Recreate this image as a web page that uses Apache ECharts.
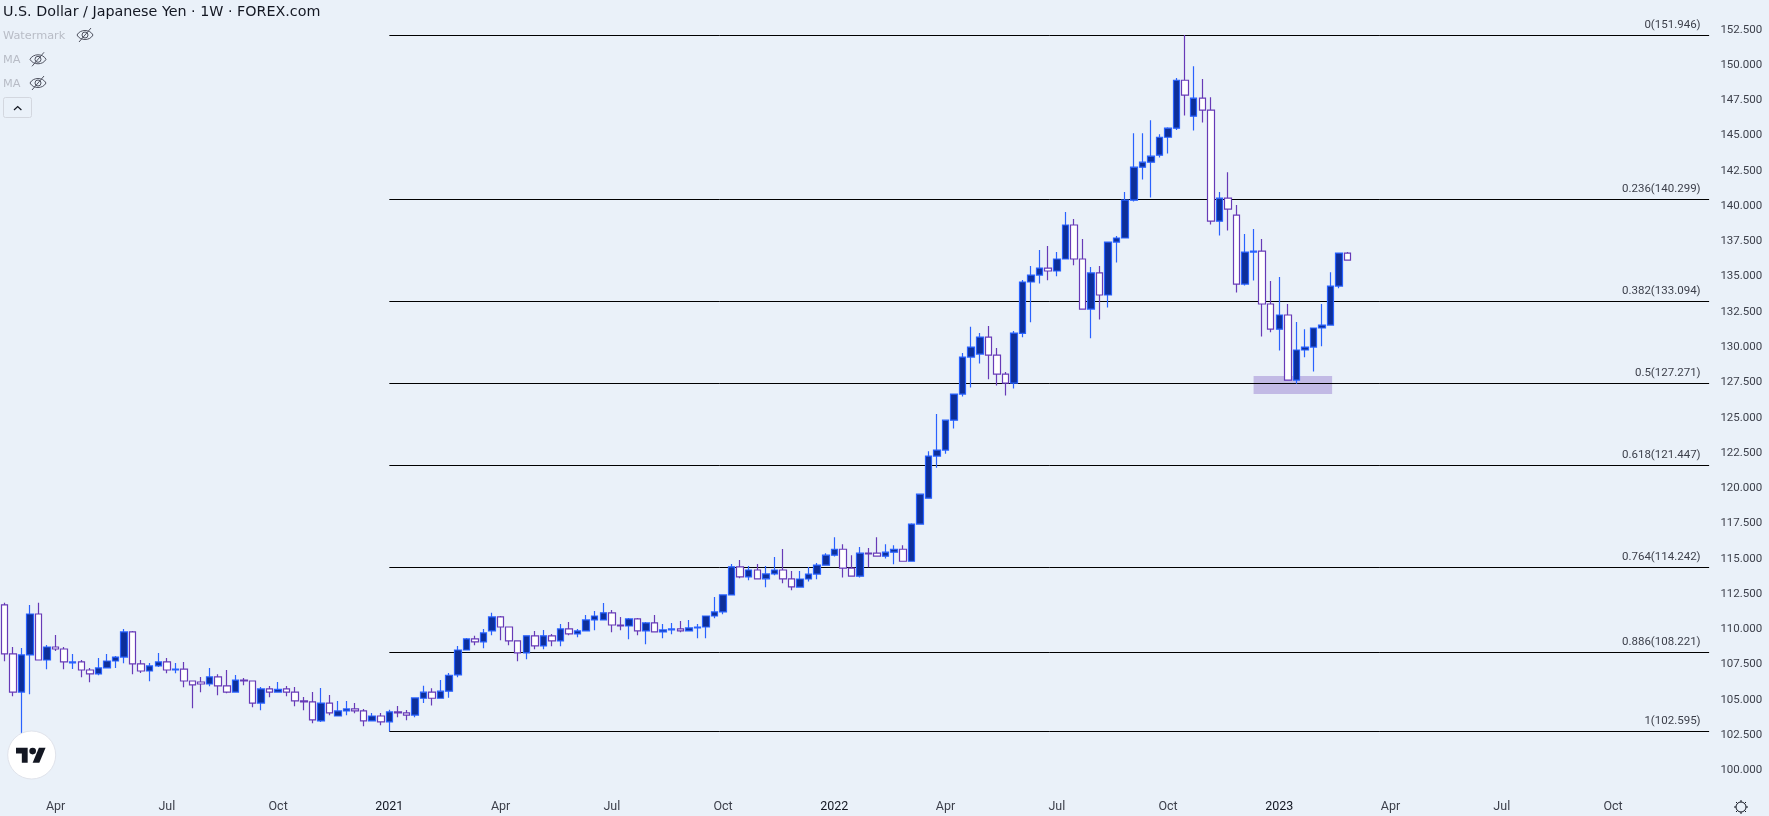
<!DOCTYPE html>
<html>
<head>
<meta charset="utf-8">
<script src="https://cdn.jsdelivr.net/npm/echarts@6/dist/echarts.min.js"></script>
<style>html,body{margin:0;padding:0;background:#eaf1f9}#c{width:1769px;height:816px}</style>
</head>
<body>
<div id="c"></div>
<script>
const opens = [
111.55,108.08,105.38,108.01,110.91,107.65,108.57,108.43,107.44,107.51,
106.94,106.66,107.09,107.58,107.86,109.64,107.37,106.87,107.23,107.51,
106.94,107.01,106.16,106.09,105.95,106.45,105.81,105.38,106.23,106.16,
104.60,105.60,105.38,105.60,105.38,104.75,104.68,103.33,104.60,103.68,
104.04,104.18,104.04,103.33,103.68,103.26,103.97,103.90,103.75,104.94,
105.37,104.94,105.44,106.59,108.36,109.14,108.93,109.71,110.70,109.99,
109.00,108.15,109.36,108.65,109.36,109.00,109.85,109.50,109.71,110.49,
110.49,110.99,110.13,110.06,110.56,109.71,110.28,109.64,109.78,109.85,
109.71,109.92,109.99,110.77,111.06,112.26,114.25,113.54,114.03,113.40,
113.75,114.03,113.40,112.82,113.39,113.74,114.37,115.08,115.50,114.16,
113.59,115.22,115.22,115.01,115.29,115.50,114.65,117.28,119.12,122.10,
122.53,124.65,126.50,129.12,129.33,130.54,129.26,127.91,127.28,130.80,
134.44,134.93,135.43,135.22,136.07,138.48,136.07,132.52,135.08,133.52,
137.27,137.56,140.24,142.58,142.93,143.43,144.70,145.34,148.74,146.19,
147.47,146.62,138.75,140.38,139.18,134.29,136.56,136.63,132.88,131.10,
132.10,127.49,129.62,129.83,131.18,131.39,134.15,136.49];
const closes = [
108.08,105.38,108.01,110.91,107.65,108.57,108.43,107.51,107.51,106.94,
106.66,107.09,107.58,107.86,109.64,107.37,106.87,107.23,107.51,106.94,
107.01,106.16,105.88,105.95,106.45,105.81,105.38,106.23,106.16,104.60,
105.60,105.38,105.57,105.38,104.75,104.68,103.40,104.60,103.90,104.04,
104.18,104.04,103.33,103.68,103.26,103.97,103.90,103.75,104.96,105.37,
104.94,105.44,106.57,108.36,109.14,108.93,109.57,110.70,109.99,109.00,
108.15,109.36,108.65,109.36,109.00,109.85,109.50,109.71,110.49,110.77,
110.99,110.13,110.06,110.56,109.71,110.28,109.64,109.78,109.85,109.71,
109.92,109.99,110.77,111.06,112.26,114.25,113.54,114.03,113.40,113.75,
114.03,113.40,112.83,113.39,113.74,114.38,115.08,115.50,114.16,113.59,
115.22,115.17,115.01,115.29,115.50,114.65,117.28,119.40,122.10,122.53,
124.65,126.50,129.12,129.83,130.54,129.26,127.91,127.28,130.82,134.44,
134.93,135.43,135.22,136.07,138.48,136.07,132.52,135.08,133.52,137.27,
137.56,140.25,142.58,142.93,143.36,144.70,145.34,148.74,147.68,147.47,
146.62,138.75,140.38,139.60,134.29,136.56,136.63,132.88,131.10,132.10,
127.49,129.62,129.83,131.18,131.39,134.15,136.49,135.99];
const lows = [
107.56,105.08,101.20,105.22,107.65,106.99,108.29,106.99,107.01,106.42,
106.07,106.57,107.09,107.09,107.42,106.64,106.73,106.14,107.16,106.71,
106.71,105.72,104.23,105.36,105.79,105.15,105.29,105.38,105.86,104.30,
104.09,105.01,105.36,105.08,104.37,104.09,103.16,103.26,103.73,103.68,
103.73,103.87,102.95,103.31,103.02,102.60,103.59,103.38,103.59,104.61,
104.42,104.94,104.97,106.43,108.36,108.69,108.48,109.40,109.05,108.69,
107.56,107.70,108.41,108.41,108.62,108.62,109.40,109.26,109.71,109.76,
110.49,109.62,109.76,109.12,109.40,108.76,109.64,109.19,109.47,109.62,
109.71,109.19,109.19,110.61,110.89,112.26,113.44,113.30,113.40,112.80,
113.65,113.09,112.59,112.82,113.22,113.37,114.37,114.98,113.50,113.59,
113.50,114.23,115.01,114.84,114.44,114.65,114.65,117.28,119.12,121.28,
122.27,124.06,126.33,126.97,128.67,127.54,127.11,126.40,126.90,130.52,
131.58,134.34,134.56,134.84,136.07,135.62,132.52,130.45,131.79,132.64,
135.83,137.56,140.15,141.70,140.43,143.26,143.55,145.22,146.24,145.18,
145.74,138.52,137.74,138.09,133.70,134.20,134.55,130.58,130.87,129.59,
127.49,127.23,129.10,128.10,129.88,131.39,133.99,135.99];
const highs = [
111.71,108.57,108.50,111.55,111.71,108.72,109.42,108.57,108.08,107.65,
107.09,107.79,108.08,107.94,109.85,109.71,107.65,107.44,108.15,107.79,
107.44,107.51,106.16,106.45,107.09,106.64,106.94,106.59,106.38,106.16,
105.74,105.81,106.09,105.81,105.74,105.03,105.38,105.67,105.17,104.75,
104.75,104.60,104.18,103.90,103.90,104.13,104.39,104.11,104.96,105.82,
105.65,106.24,106.72,108.65,109.21,109.36,109.85,110.99,110.77,109.99,
109.00,109.36,109.71,109.78,109.50,110.21,110.35,109.85,110.84,111.13,
111.69,111.20,110.70,110.63,110.63,110.35,110.84,110.21,110.28,110.42,
110.49,110.21,110.77,112.12,112.26,114.46,114.74,114.32,114.46,114.32,
114.95,115.52,113.96,113.96,114.24,114.52,115.22,116.35,115.86,115.08,
115.65,115.58,116.35,115.86,115.79,115.79,117.35,119.40,122.45,125.08,
124.65,126.50,129.40,131.27,130.82,131.32,129.76,128.06,130.96,134.58,
135.57,136.70,136.99,136.56,139.40,138.90,137.49,135.50,135.57,137.27,
137.70,140.82,144.99,144.99,145.91,144.92,145.41,148.89,151.95,149.74,
148.82,147.54,140.81,142.22,139.90,137.84,138.19,137.48,134.51,134.79,
132.88,131.60,131.10,131.18,132.88,135.14,136.49,136.56];

const fibLevels = ['0','0.236','0.382','0.5','0.618','0.764','0.886','1'];
const fibValues = [151.946,140.299,133.094,127.271,121.447,114.242,108.221,102.595];
const fibStart = 45, fibEnd = 199;

const boxStart = 146, boxEnd = 155, boxTop = 127.78, boxBottom = 126.50;

const tickIndex = [6,19,32,45,58,71,84,97,110,123,136,149,162,175,188];
const tickLabels = ['Apr','Jul','Oct','2021','Apr','Jul','Oct','2022','Apr','Jul','Oct','2023','Apr','Jul','Oct'];
const yTicks = [100,102.5,105,107.5,110,112.5,115,117.5,120,122.5,125,127.5,130,132.5,135,137.5,140,142.5,145,147.5,150,152.5];
const bandCount = 200;

const title = 'U.S. Dollar / Japanese Yen · 1W · FOREX.com';
const legendRows = ['Watermark','MA','MA'];

const BG = '#eaf1f9', UP_FILL = '#0d2f9a', UP = '#2962ff', DOWN = '#673ab7';
const FONT = 'Roboto, "Liberation Sans", sans-serif';
const UIFONT = '"DejaVu Sans", sans-serif';

const categories = Array.from({length: bandCount}, (_, i) => String(i));
const candles = opens.map((o, i) => [o, closes[i], lows[i], highs[i]]);
const tickMap = {};
tickIndex.forEach((t, i) => { tickMap[t] = tickLabels[i]; });

function eye(x, y) {
  const st = {fill:'none', stroke:'#4f5260', lineWidth:1};
  return {
    type: 'group', x, y, silent: true,
    children: [
      {type:'bezierCurve', shape:{x1:-8,y1:0,x2:8,y2:0,cpx1:-5,cpy1:-6,cpx2:5,cpy2:-6}, style:st},
      {type:'bezierCurve', shape:{x1:-8,y1:0,x2:8,y2:0,cpx1:-5,cpy1:6,cpx2:5,cpy2:6}, style:st},
      {type:'circle', shape:{cx:0, cy:0, r:3}, style:st},
      {type:'line', shape:{x1:-6, y1:7, x2:6, y2:-7}, style:st}
    ]
  };
}
const gearTicks = [[0,-7,0,-5],[0,5,0,7],[-7,0,-5,0],[5,0,7,0],[-5,-5,-3.5,-3.5],[3.5,3.5,5,5],[5,-5,3.5,-3.5],[-3.5,3.5,-5,5]];

const graphic = [
  {type:'text', x:3, y:5, silent:true, style:{text:title, font:'14.3px '+UIFONT, fill:'#131722'}},
  {type:'text', x:3, y:30.5, silent:true, style:{text:legendRows[0], font:'11.3px '+UIFONT, fill:'#b8bcc6'}},
  eye(85, 35),
  {type:'text', x:3, y:54.5, silent:true, style:{text:legendRows[1], font:'11.3px '+UIFONT, fill:'#b8bcc6'}},
  eye(38, 59.3),
  {type:'text', x:3, y:78.5, silent:true, style:{text:legendRows[2], font:'11.3px '+UIFONT, fill:'#b8bcc6'}},
  eye(38, 83),
  {type:'rect', silent:true, shape:{x:3.5, y:97.5, width:28, height:20, r:2}, style:{fill:'none', stroke:'#d3d7df', lineWidth:1}},
  {type:'polyline', silent:true, shape:{points:[[14,110],[17.7,106.5],[21.4,110]]}, style:{fill:'none', stroke:'#131722', lineWidth:1.2}},
  {type:'circle', silent:true, z:50, shape:{cx:31.7, cy:755, r:24}, style:{fill:'#ffffff', stroke:'#e0e3eb', lineWidth:1}},
  {type:'group', silent:true, z:51, x:16, y:744.4, scaleX:0.833, scaleY:0.833, children:[
    {type:'polygon', z:51, shape:{points:[[0,4],[14,4],[14,22],[7,22],[7,11],[0,11]]}, style:{fill:'#131722'}},
    {type:'polygon', z:51, shape:{points:[[20,22],[27.5,4],[35.5,4],[28,22]]}, style:{fill:'#131722'}},
    {type:'circle', z:51, shape:{cx:20, cy:8, r:4}, style:{fill:'#131722'}}
  ]},
  {type:'group', silent:true, x:1741, y:807, children:[
    {type:'circle', shape:{cx:0, cy:0, r:5}, style:{fill:'none', stroke:'#131722', lineWidth:1}}
  ].concat(gearTicks.map(t => ({type:'line', shape:{x1:t[0],y1:t[1],x2:t[2],y2:t[3]}, style:{stroke:'#131722', lineWidth:1}})))}
];

const chart = echarts.init(document.getElementById('c'), null, {renderer:'canvas'});
chart.setOption({
  animation: false,
  backgroundColor: BG,
  graphic,
  grid: {left: 0, top: -8.09, width: 1711.4, height: 811.3, containLabel: false, outerBoundsMode: 'none'},
  xAxis: {
    type: 'category', data: categories, boundaryGap: true,
    axisLine: {show:false}, axisTick: {show:false}, splitLine: {show:false},
    axisLabel: {
      margin: -2.5,
      interval: (i) => tickMap[i] !== undefined,
      hideOverlap: false,
      formatter: (v) => {
        const t = tickMap[v] || '';
        return /^\d+$/.test(t) ? '{y|' + t + '}' : t;
      },
      fontFamily: FONT, fontSize: 12.5, color: '#3c3f4a',
      rich: {y: {fontFamily: FONT, fontSize: 12.5, color: '#131722'}}
    }
  },
  yAxis: {
    type: 'value', position: 'right', min: 97.5, max: 155, interval: 2.5, scale: true,
    axisLine: {show:false}, axisTick: {show:false}, splitLine: {show:false},
    axisLabel: {
      margin: 9, align: 'left',
      showMinLabel: true, showMaxLabel: true,
      formatter: (v) => yTicks.includes(v) ? '{a|' + v.toFixed(3) + '}' : '',
      fontFamily: FONT, fontSize: 11.5, color: '#3c3f4a',
      rich: {a: {fontFamily: FONT, fontSize: 11.5, color: '#3c3f4a', padding: [5, 0, 0, 0]}}
    }
  },
  series: [
    {
      type: 'custom', name: 'highlight', z: 1, silent: true, clip: false,
      encode: {x: 0, y: [2, 3]},
      data: [[boxStart, boxEnd, boxTop, boxBottom]],
      renderItem: (p, api) => {
        const a = api.coord([api.value(0), api.value(2)]);
        const b = api.coord([api.value(1), api.value(3)]);
        return {type:'rect', shape:{x:a[0], y:a[1], width:b[0]-a[0]+1.5, height:b[1]-a[1]},
                style:{fill:'rgba(103,58,183,0.3)'}};
      }
    },
    {
      type: 'custom', name: 'fib', z: 2, silent: true, clip: false,
      encode: {x: 0, y: 2},
      data: fibValues.map((v, i) => [fibStart, fibEnd, v, i]),
      renderItem: (p, api) => {
        const v = api.value(2), i = api.value(3);
        const a = api.coord([api.value(0), v]);
        const b = api.coord([api.value(1), v]);
        const y = Math.round(a[1]) + 0.5;
        return {type:'group', children:[
          {type:'line', shape:{x1:a[0], y1:y, x2:b[0]+2, y2:y}, style:{stroke:'#000000', lineWidth:1}},
          {type:'text', x:b[0]-6.5, y:y-10.5, style:{text: fibLevels[i] + '(' + v.toFixed(3) + ')', font:'11.5px '+FONT, fill:'#3c3f4a', textAlign:'right', textVerticalAlign:'middle'}}
        ]};
      }
    },
    {
      type: 'candlestick', name: 'USDJPY', z: 3, barWidth: 7,
      data: candles,
      itemStyle: {color: UP_FILL, color0: '#ffffff', borderColor: UP, borderColor0: DOWN, borderWidth: 1.2}
    }
  ]
});
</script>
</body>
</html>
